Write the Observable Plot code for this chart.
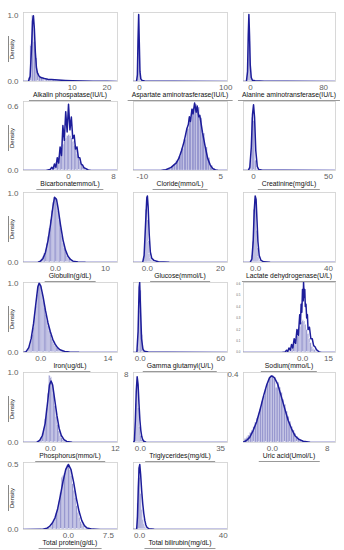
<!DOCTYPE html>
<html><head><meta charset="utf-8">
<script src="https://cdn.jsdelivr.net/npm/d3@7"></script>
<script src="https://cdn.jsdelivr.net/npm/@observablehq/plot@0.6"></script>
<style>
body{margin:0;background:#fff;}
#root{position:relative;width:344px;height:550px;overflow:hidden;font-family:"Liberation Sans",Arial,sans-serif;}
.p{position:absolute;}
.xl{position:absolute;font-size:6.8px;color:#111;white-space:nowrap;transform:translateX(-50%);border-bottom:1px solid #999;padding:0 4px 1px;line-height:8px;}
.yl{position:absolute;font-size:6px;color:#111;white-space:nowrap;line-height:7px;border-top:1px solid #888;padding:0 3px;transform:translate(-50%,-50%) rotate(-90deg);}
</style></head>
<body><div id="root"></div>
<script>
// ---------- data ----------
const labels = ["Alkalin phospatase(IU/L)","Aspartate aminotrasferase(IU/L)","Alanine aminotransferase(IU/L)",
  "Bicarbonatemmo/L)","Cloride(mmo/L)","Creatinine(mg/dL)",
  "Globulin(g/dL)","Glucose(mmol/L)","Lactate dehydrogenase(U/L)",
  "Iron(ug/dL)","Gamma glutamyl(U/L)","Sodium(mmo/L)",
  "Phosphorus(mmo/L)","Triglycerides(mg/dL)","Uric acid(Umol/L)",
  "Total protein(g/dL)","Total bilirubin(mg/dL)"];
const yTitle = "Density";

// x domains, tick values, tick labels
const xDomains = [[-4,23],[-7,102],[-7.7,93],[-8,8.7],[-11.7,6.3],[-6.7,54.7],[-6.4,12.4],[-3.8,21.9],[-6.6,43.8],
  [-3.6,16],[-5,65],[-34,19],[-5,12.4],[-3,38],[-4.2,9.2],[-8.4,9.2],[-2.9,42]];
const xTicks = [[10,20],[0,100],[0,80],[0,8],[-10,5],[0,50],[0,10],[0,20],[0,40],[0,14],[0,60],[0,15],[0,12],[0,35],[0,8],[0,7.5],[0,40]];
const xTickLabels = [["10","20"],["0","100"],["0","80"],["0","8"],["-10","5"],["0","50"],["0.0","10"],["0.0","20"],["0.0","40"],
  ["0.0","14"],["0.0","60"],["0.0","15"],["0.0","12"],["0.0","35"],["0.0","8"],["0.0","7.5"],["0.0","40"]];
const yMax = [1.05,1.05,1.05,0.645,0.45,1.05,1.02,1.0,1.0,1.01,1.02,0.61,1.0,8.2,0.41,0.515,1.03];
const yTicks = {0:[0,1],3:[0,0.6],6:[0,1],9:[0,1],11:[0,0.1,0.2,0.3,0.4,0.5,0.6],12:[0,1],13:[8],14:[0.4],15:[0,0.5]};
const yTickLabels = {0:["0.0","1.0"],3:["0.0","0.6"],6:["0.0","1.0"],9:["0.0","1.0"],11:["0.0","0.1","0.2","0.3","0.4","0.5","0.6"],
  12:["0.0","1.0"],13:["8"],14:["0.4"],15:["0.0","0.5"]};

// histogram: first bin start, bin width, densities
const binStart = [-2.5,-3,-4,-3.5,-6,-3,-3,-1,-2.5,-3,-2,-9,-2.5,-2.5,-4,-4,-1];
const binWidth = [0.5,1,1,0.25,0.5,1,0.25,0.25,0.5,0.25,1,0.75,0.25,0.5,0.25,0.25,0.5];
const alkalinHist = [0.05,0.55,1.0,0.6,0.35,0.12,0.07,0.05,0.04,0.03,0.03,0.02,0.02,0.02,0.015,0.01,0.01,0.01];
const aspartateHist = [0.02,0.3,1.0,0.35,0.06,0.02,0.01];
const alanineHist = [0.02,0.2,0.95,0.6,0.15,0.04,0.02,0.01];
const bicarbHist = [0.005,0.01,0.02,0.03,0.05,0.07,0.1,0.13,0.17,0.2,0.24,0.27,0.3,0.32,0.33,0.32,0.3,0.27,0.23,0.19,0.15,0.11,0.08,0.05,0.03,0.02,0.01,0.005];
const clorideHist = [0.003,0.006,0.01,0.02,0.035,0.06,0.09,0.14,0.2,0.27,0.34,0.4,0.43,0.41,0.34,0.24,0.15,0.08,0.03,0.01,0.003];
const creatHist = [0.02,0.15,0.8,0.75,0.15,0.03,0.01];
const globulinHist = [0.03,0.05,0.08,0.13,0.19,0.27,0.37,0.49,0.62,0.75,0.87,0.94,0.93,0.86,0.75,0.62,0.5,0.39,0.29,0.21,0.15,0.1,0.07,0.05,0.03,0.02,0.015,0.01];
const glucoseHist = [0.05,0.3,0.75,0.9,0.6,0.3,0.12,0.07,0.04,0.03,0.02,0.02];
const lactateHist = [0.03,0.1,0.3,0.75,0.9,0.85,0.45,0.2,0.08,0.03,0.01];
const ironHist = [0.01,0.03,0.06,0.1,0.16,0.25,0.36,0.5,0.66,0.83,0.96,1.0,0.95,0.86,0.75,0.65,0.55,0.46,0.38,0.31,0.25,0.2,0.16,0.12,0.09,0.07,0.05,0.04,0.03,0.02,0.015,0.01];
const gammaHist = [0.05,0.6,0.9,0.25,0.05,0.02];
const sodiumHist = [0.005,0.01,0.015,0.025,0.04,0.06,0.08,0.11,0.14,0.18,0.22,0.26,0.28,0.27,0.24,0.2,0.16,0.12,0.08,0.05,0.03,0.02,0.01,0.005];
const phosHist = [0.01,0.02,0.04,0.07,0.12,0.2,0.33,0.48,0.7,0.95,0.93,0.85,0.7,0.52,0.37,0.25,0.16,0.1,0.06,0.04,0.025,0.015,0.01,0.005];
const trigHist = [0.5,4.5,7.0,4.0,1.8,0.8,0.3,0.1];
const uricHist = [0.02,0.03,0.04,0.055,0.07,0.09,0.115,0.14,0.17,0.2,0.24,0.27,0.31,0.34,0.37,0.39,0.39,0.38,0.32,0.35,0.32,0.29,0.25,0.22,0.18,0.15,0.12,0.09,0.07,0.05,0.035,0.025,0.015,0.01];
const proteinHist = [0.005,0.01,0.015,0.02,0.04,0.06,0.085,0.12,0.16,0.21,0.28,0.4,0.41,0.43,0.47,0.49,0.49,0.46,0.41,0.35,0.3,0.24,0.18,0.13,0.09,0.06,0.04,0.025,0.015,0.008];
const biliHist = [0.4,0.95,0.8,0.55,0.3,0.15,0.08,0.04,0.02];

// density curves: [x, density]
const alkalinCurve = [[-4,0],[-2.6,0],[-2.1,0.08],[-1.7,0.5],[-1.4,0.92],[-1.15,1.0],[-0.9,0.82],[-0.6,0.45],[-0.3,0.22],[0,0.13],[0.5,0.08],[1,0.06],[2,0.045],[3,0.035],[4,0.03],[6,0.022],[8,0.015],[10,0.01],[13,0.006],[16,0.004],[20,0.002],[23,0.001]];
const aspartateCurve = [[-7,0],[-3.5,0],[-2.5,0.1],[-1.8,0.6],[-1,1.02],[-0.3,0.6],[0.5,0.15],[1.5,0.04],[3,0.015],[6,0.008],[15,0.004],[40,0.002],[102,0]];
const alanineCurve = [[-7.7,0],[-4.5,0],[-3.3,0.15],[-2.5,0.7],[-1.8,1.02],[-1.1,0.7],[-0.3,0.25],[0.8,0.06],[2,0.02],[5,0.01],[15,0.005],[40,0.002],[93,0]];
const bicarbCurve = [[-8,0],[-4,0],[-3.25,0.01],[-3,0.03],[-2.75,0.015],[-2.5,0.06],[-2.25,0.03],[-2,0.12],[-1.75,0.07],[-1.5,0.22],[-1.25,0.14],[-1,0.42],[-0.75,0.28],[-0.5,0.55],[-0.25,0.36],[0,0.62],[0.25,0.38],[0.5,0.5],[0.75,0.3],[1,0.33],[1.25,0.2],[1.5,0.22],[1.75,0.12],[2,0.12],[2.25,0.06],[2.5,0.05],[2.75,0.025],[3,0.02],[3.5,0.005],[4,0],[8.7,0]];
const clorideCurve = [[-11.7,0],[-6.5,0],[-5.5,0.005],[-4.5,0.02],[-3.5,0.05],[-3,0.08],[-2.5,0.13],[-2,0.19],[-1.5,0.27],[-1.2,0.3],[-1,0.35],[-0.8,0.32],[-0.5,0.4],[-0.3,0.37],[0,0.44],[0.3,0.38],[0.5,0.42],[0.8,0.35],[1,0.36],[1.5,0.25],[2,0.16],[2.5,0.08],[3,0.035],[3.5,0.012],[4,0.004],[4.5,0],[6.3,0]];
const creatCurve = [[-6.7,0],[-3.5,0],[-2.5,0.05],[-1.5,0.35],[-0.7,0.85],[0,1.0],[0.7,0.8],[1.5,0.3],[2.5,0.06],[3.5,0.015],[6,0.005],[20,0.002],[54.7,0]];
const globulinCurve = [[-6.4,0],[-3.5,0.005],[-3,0.02],[-2.5,0.06],[-2,0.15],[-1.5,0.32],[-1,0.55],[-0.5,0.82],[-0.2,0.95],[0.2,0.92],[0.5,0.8],[1,0.55],[1.5,0.33],[2,0.18],[2.5,0.09],[3,0.045],[3.5,0.02],[4.5,0.008],[6,0.003],[8,0.001],[12.4,0]];
const glucoseCurve = [[-3.8,0],[-1.3,0],[-0.9,0.1],[-0.5,0.55],[-0.15,0.93],[0,0.95],[0.2,0.8],[0.5,0.4],[0.8,0.15],[1.2,0.06],[1.8,0.03],[3,0.01],[6,0.004],[21.9,0]];
const lactateCurve = [[-6.6,0],[-3,0],[-2,0.05],[-1.3,0.3],[-0.7,0.75],[-0.2,0.95],[0.3,0.9],[0.8,0.6],[1.3,0.3],[2,0.1],[3,0.03],[4.5,0.01],[8,0.003],[43.8,0]];
const ironCurve = [[-3.6,0],[-3.1,0.01],[-2.5,0.07],[-2,0.2],[-1.5,0.42],[-1,0.72],[-0.6,0.95],[-0.35,1.0],[0,0.96],[0.5,0.8],[1,0.6],[1.5,0.43],[2,0.3],[2.5,0.19],[3,0.12],[3.5,0.07],[4,0.04],[5,0.015],[6,0.006],[8,0.002],[16,0]];
const gammaCurve = [[-5,0],[-2.5,0],[-1.6,0.3],[-0.8,0.95],[-0.4,1.02],[0.3,0.6],[1,0.2],[2,0.05],[3,0.02],[6,0.008],[20,0.003],[65,0]];
const sodiumCurve = [[-34,0],[-12,0],[-10,0.005],[-9.2,0.02],[-8.5,0.01],[-7.8,0.04],[-7,0.02],[-6.3,0.07],[-5.6,0.04],[-4.8,0.12],[-4,0.08],[-3.2,0.2],[-2.4,0.15],[-1.6,0.33],[-1.2,0.25],[-0.8,0.42],[-0.4,0.35],[0,0.55],[0.4,0.45],[0.6,0.61],[1,0.48],[1.3,0.55],[1.6,0.4],[2,0.42],[2.4,0.3],[2.8,0.33],[3.2,0.2],[4,0.22],[4.8,0.12],[5.6,0.12],[6.4,0.06],[7.2,0.05],[8,0.025],[8.8,0.015],[9.6,0.005],[11,0],[19,0]];
const phosCurve = [[-5,0],[-2.5,0.005],[-2,0.03],[-1.5,0.1],[-1,0.27],[-0.5,0.6],[-0.2,0.82],[0.1,0.88],[0.4,0.82],[0.8,0.6],[1.2,0.38],[1.6,0.2],[2,0.1],[2.5,0.04],[3,0.015],[4,0.005],[6,0.001],[12.4,0]];
const trigCurve = [[-3,0],[-2.6,0.2],[-2.2,2.5],[-1.8,6],[-1.4,7.7],[-1,6.8],[-0.6,4.5],[-0.2,2.6],[0.2,1.4],[0.6,0.7],[1,0.35],[1.5,0.15],[2.5,0.04],[5,0.01],[38,0]];
const uricCurve = [[-4.2,0.003],[-3.8,0.01],[-3.3,0.03],[-2.8,0.07],[-2.3,0.12],[-1.8,0.19],[-1.3,0.27],[-0.8,0.34],[-0.4,0.38],[-0.1,0.39],[0.3,0.38],[0.8,0.34],[1.3,0.27],[1.8,0.2],[2.3,0.13],[2.8,0.08],[3.3,0.04],[3.8,0.02],[4.5,0.007],[5.5,0.002],[7,0],[9.2,0]];
const proteinCurve = [[-8.4,0],[-5,0.001],[-4,0.01],[-3.5,0.025],[-3,0.05],[-2.5,0.09],[-2,0.16],[-1.5,0.26],[-1,0.37],[-0.5,0.46],[0,0.5],[0.5,0.46],[1,0.36],[1.5,0.24],[2,0.14],[2.5,0.07],[3,0.03],[3.5,0.012],[4.5,0.003],[6,0],[9.2,0]];
const biliCurve = [[-2.9,0],[-1.4,0],[-1,0.2],[-0.6,0.65],[-0.2,0.95],[0.1,1.0],[0.5,0.85],[1,0.6],[1.5,0.4],[2,0.25],[2.5,0.14],[3,0.07],[3.5,0.035],[4.5,0.01],[7,0.003],[42,0]];

const hists = [alkalinHist,aspartateHist,alanineHist,bicarbHist,clorideHist,creatHist,globulinHist,glucoseHist,lactateHist,
  ironHist,gammaHist,sodiumHist,phosHist,trigHist,uricHist,proteinHist,biliHist];
const curves = [alkalinCurve,aspartateCurve,alanineCurve,bicarbCurve,clorideCurve,creatCurve,globulinCurve,glucoseCurve,lactateCurve,
  ironCurve,gammaCurve,sodiumCurve,phosCurve,trigCurve,uricCurve,proteinCurve,biliCurve];

// ---------- layout ----------
const colL = [23,133,243], colR = [117,227,335];
const rowT = [12,101,192,282,372,462], rowB = [81,170,262,352,442,529];
const ML = 22, MR = 10, MT = 4, MB = 12;
const root = document.getElementById("root");

labels.forEach((lab, i) => {
  const c = i % 3, r = Math.floor(i / 3);
  const fw = colR[c] - colL[c], fh = rowB[r] - rowT[r];
  const bars = hists[i].map((v, k) => ({x1: binStart[i] + k * binWidth[i], x2: binStart[i] + (k + 1) * binWidth[i], y: v}));
  const xt = xTicks[i], xtl = xTickLabels[i];
  const marks = [
    Plot.frame({stroke: "#cfcfcf", strokeWidth: 0.8}),
    Plot.rect(bars, {x1: "x1", x2: "x2", y1: 0, y2: "y", fill: "#9898cf", stroke: "#e4e4f3", strokeWidth: 0.3}),
    Plot.line(curves[i], {x: d => d[0], y: d => d[1], stroke: "#1d1d9a", strokeWidth: 1.5, clip: true}),
    Plot.axisX({ticks: xt, tickFormat: d => xtl[xt.indexOf(d)], tickSize: 0, tickPadding: 3, label: null, fontSize: 8, fill: "#5f5f5f"})
  ];
  if (yTicks[i]) {
    const yt = yTicks[i], ytl = yTickLabels[i];
    marks.push(Plot.axisY({ticks: yt, tickFormat: d => ytl[yt.indexOf(d)], tickSize: 0, tickPadding: i === 11 ? 3 : 5,
      label: null, fontSize: i === 11 ? 3 : 8, fill: "#5f5f5f"}));
  }
  const svg = Plot.plot({
    width: fw + ML + MR, height: fh + MT + MB,
    marginLeft: ML, marginRight: MR, marginTop: MT, marginBottom: MB,
    style: {fontFamily: '"Liberation Sans", Arial, sans-serif', background: "transparent", overflow: "visible"},
    x: {domain: xDomains[i], axis: null},
    y: {domain: [0, yMax[i]], axis: null},
    marks
  });
  svg.classList.add("p");
  svg.style.left = (colL[c] - ML) + "px";
  svg.style.top = (rowT[r] - MT) + "px";
  root.appendChild(svg);

  const xl = document.createElement("div");
  xl.className = "xl";
  xl.textContent = lab;
  xl.style.left = ((colL[c] + colR[c]) / 2) + "px";
  xl.style.top = (rowB[r] + 10) + "px";
  root.appendChild(xl);

  if (c === 0) {
    const yl = document.createElement("div");
    yl.className = "yl";
    yl.textContent = yTitle;
    yl.style.left = "12px";
    yl.style.top = ((rowT[r] + rowB[r]) / 2 + 2) + "px";
    root.appendChild(yl);
  }
});
</script></body></html>
